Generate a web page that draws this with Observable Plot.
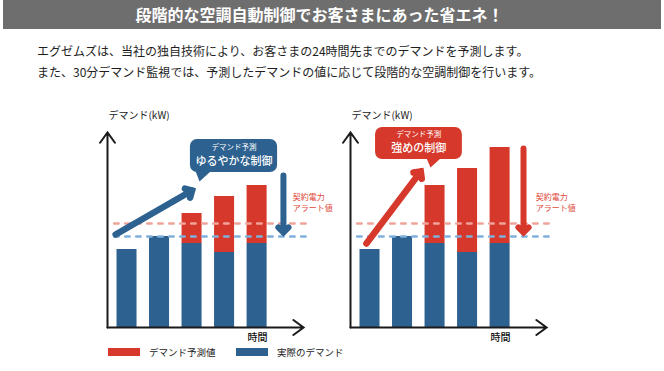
<!DOCTYPE html>
<html>
<head>
<meta charset="utf-8">
<script src="https://cdn.jsdelivr.net/npm/d3@7"></script>
<script src="https://cdn.jsdelivr.net/npm/@observablehq/plot@0.6"></script>
<style>
  html, body { margin: 0; padding: 0; background: #fff; }
  body { font-family: "Noto Sans CJK JP", "Noto Sans", sans-serif; }
  #wrap { position: relative; width: 664px; height: 371px; overflow: hidden; background: #fff; }
  #titlebar { position: absolute; left: 3px; top: 0; width: 658px; height: 29px; background: #6e6e6e; }
  #title { position: absolute; left: 316.5px; top: 0; transform: translateX(-50%); white-space: nowrap;
           color: #fff; font-weight: bold; font-size: 16px; line-height: 29px; }
  .lead { position: absolute; left: 37px; white-space: nowrap; color: #1e1e1e; font-size: 12px; line-height: 16px; }
  .panel { position: absolute; top: 0; }
  #legend { position: absolute; left: 108px; top: 344px; display: flex; }
  .item { display: flex; align-items: center; width: 128px; height: 16px; }
  .sw { width: 32px; height: 8px; margin-right: 9px; }
  .lab { font-size: 9.5px; color: #222; white-space: nowrap; }
</style>
</head>
<body>
<div id="wrap">
  <div id="titlebar"><span id="title"></span></div>
  <div class="lead" id="lead1" style="top:43px"></div>
  <div class="lead" id="lead2" style="top:64px"></div>
  <div class="panel" id="p0" style="left:87px"></div>
  <div class="panel" id="p1" style="left:330px"></div>
  <div id="legend"></div>
</div>
<script>
// ---------- texts ----------
const titleText = "段階的な空調自動制御でお客さまにあった省エネ！";
const leadLines = [
  "エグゼムズは、当社の独自技術により、お客さまの24時間先までのデマンドを予測します。",
  "また、30分デマンド監視では、予測したデマンドの値に応じて段階的な空調制御を行います。"
];
const yLabel = "デマンド(kW)";
const xLabel = "時間";
const calloutHead = "デマンド予測";
const panels = ["ゆるやかな制御", "強めの制御"];
const alertLabel = ["契約電力", "アラート値"];
const seriesNames = ["デマンド予測値", "実際のデマンド"];

// ---------- values (demand, arbitrary kW units) ----------
const timeSlots = [1, 2, 3, 4, 5];
const actualDemand = [78, 91, 84, 75, 84];
const forecastGentle = [78, 91, 114, 131, 142];
const forecastStrong = [78, 91, 142, 159, 180];
const alertLevel = 104;   // 契約電力アラート値
const targetLevel = 91;   // 制御目標

// ---------- annotation geometry (data units: x = time slot, y = kW) ----------
const axisArrows = [
  {x1: 0.9, y1: 0, x2: 0.9, y2: 195},
  {x1: 0.9, y1: 0, x2: 6.93, y2: 0}
];
const trendArrows = [
  {panel: 0, x1: 1.15, y1: 93, x2: 3.5, y2: 137},
  {panel: 1, x1: 1.39, y1: 84, x2: 3.06, y2: 156}
];
const dropArrows = [
  {panel: 0, x1: 6.31, y1: 152, x2: 6.31, y2: 95},
  {panel: 1, x1: 6.22, y1: 179, x2: 6.22, y2: 95}
];
const calloutBoxes = [
  {panel: 0, x1: 3.45, x2: 6.13, y1: 155, y2: 188, xc: 4.79, yHead: 180, yMain: 166},
  {panel: 1, x1: 1.67, x2: 4.34, y1: 168, y2: 200, xc: 3.0, yHead: 193, yMain: 179}
];
const calloutTails = [
  {panel: 0, x: 3.60, y: 157}, {panel: 0, x: 4.10, y: 157}, {panel: 0, x: 3.73, y: 146},
  {panel: 1, x: 3.23, y: 170}, {panel: 1, x: 3.70, y: 170}, {panel: 1, x: 3.36, y: 160}
];
const guideLines = [
  {kind: "alert", level: alertLevel, from: 1.12, to: 7.15},
  {kind: "target", level: targetLevel, from: 1.12, to: 7.15}
];
const alertText = [{x: 6.6, y: 130, i: 0}, {x: 6.6, y: 119.5, i: 1}];
const yLabelPos = {x: 0.93, y: 212};
const xLabelPos = {x: 5.51, y: -10};

// ---------- styles ----------
const RED = "#d6392b", BLUE = "#2d6190";
const panelColor = [BLUE, RED];
const guideColor = {alert: "#f0a39b", target: "#7fb0dc"};
const FONT = "'Noto Sans CJK JP', 'Noto Sans', sans-serif";

// ---------- build rows ----------
const forecasts = [forecastGentle, forecastStrong];
const rows = panels.flatMap((p, pi) => timeSlots.flatMap((t, i) => [
  {panel: pi, time: t, series: seriesNames[1], lo: 0, hi: actualDemand[i]},
  {panel: pi, time: t, series: seriesNames[0], lo: actualDemand[i], hi: forecasts[pi][i]}
]));

document.getElementById("title").textContent = titleText;
document.getElementById("lead1").textContent = leadLines[0];
document.getElementById("lead2").textContent = leadLines[1];

function drawPanel(pi) {
  const col = panelColor[pi];
  const box = calloutBoxes.filter(d => d.panel === pi);
  return Plot.plot({
    width: 250, height: 371,
    marginLeft: 20, marginRight: 30, marginTop: 127, marginBottom: 44,
    style: {background: "transparent", overflow: "visible", fontFamily: FONT},
    x: {domain: [0.9, 7.05], axis: null},
    y: {domain: [0, 200], axis: null},
    color: {domain: seriesNames, range: [RED, BLUE]},
    marks: [
      Plot.rectY(rows.filter(d => d.panel === pi && d.hi > d.lo), {
        x: "time", interval: 1, y1: "lo", y2: "hi", fill: "series",
        insetLeft: 6.25, insetRight: 6.25
      }),
      Plot.ruleY(guideLines, {
        y: "level", x1: "from", x2: "to", stroke: d => guideColor[d.kind],
        strokeWidth: 2.5, strokeDasharray: "4.5,6.5", strokeLinecap: "round"
      }),
      Plot.arrow(axisArrows, {
        x1: "x1", y1: "y1", x2: "x2", y2: "y2", stroke: "#1a1a1a",
        strokeWidth: 2, headAngle: 72, headLength: 9.5, strokeMiterlimit: 10
      }),
      Plot.arrow(trendArrows.filter(d => d.panel === pi), {
        x1: "x1", y1: "y1", x2: "x2", y2: "y2", stroke: col,
        strokeWidth: 6.5, headAngle: 90, headLength: 1.7, strokeMiterlimit: 10
      }),
      Plot.arrow(dropArrows.filter(d => d.panel === pi), {
        x1: "x1", y1: "y1", x2: "x2", y2: "y2", stroke: col,
        strokeWidth: 6, headAngle: 90, headLength: 1.8, strokeMiterlimit: 10
      }),
      Plot.rect(box, {x1: "x1", x2: "x2", y1: "y1", y2: "y2", fill: col, rx: 7}),
      Plot.line(calloutTails.filter(d => d.panel === pi), {x: "x", y: "y", fill: col, stroke: "none"}),
      Plot.text(box, {x: "xc", y: "yHead", text: () => calloutHead, fill: "#fff", fontSize: 7.5}),
      Plot.text(box, {x: "xc", y: "yMain", text: () => panels[pi], fill: "#fff", fontSize: 11, fontWeight: 500}),
      Plot.text(alertText, {x: "x", y: "y", text: d => alertLabel[d.i], fill: "#e0483a", fontSize: 8, textAnchor: "start"}),
      Plot.text([yLabelPos], {x: "x", y: "y", text: () => yLabel, fill: "#222", fontSize: 10, textAnchor: "start"}),
      Plot.text([xLabelPos], {x: "x", y: "y", text: () => xLabel, fill: "#111", fontSize: 10, fontWeight: 500})
    ]
  });
}

document.getElementById("p0").appendChild(drawPanel(0));
document.getElementById("p1").appendChild(drawPanel(1));

// legend
const legendColors = [RED, BLUE];
const legend = document.getElementById("legend");
seriesNames.forEach((name, i) => {
  const item = document.createElement("div");
  item.className = "item";
  const sw = document.createElement("div");
  sw.className = "sw"; sw.style.background = legendColors[i];
  const lab = document.createElement("span");
  lab.className = "lab"; lab.textContent = name;
  item.appendChild(sw); item.appendChild(lab);
  legend.appendChild(item);
});
</script>
</body>
</html>
